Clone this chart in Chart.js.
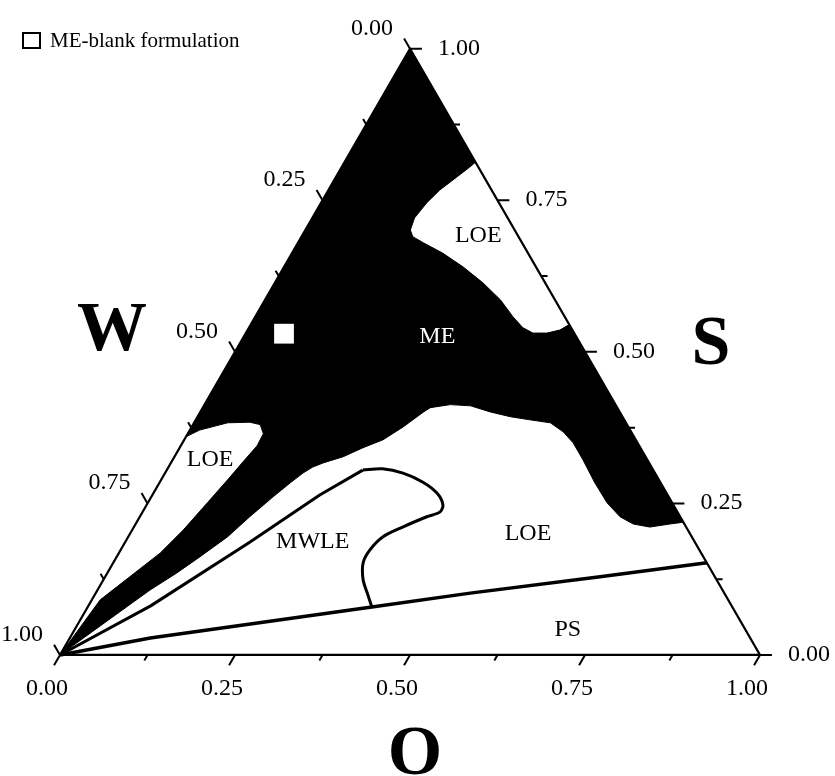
<!DOCTYPE html>
<html>
<head>
<meta charset="utf-8">
<title>ME phase diagram</title>
<script src="https://cdn.jsdelivr.net/npm/chart.js@4.4.1/dist/chart.umd.min.js"></script>
<style>
  html, body { margin: 0; padding: 0; background: #fff; }
  #wrap { position: relative; width: 835px; height: 776px; }
</style>
</head>
<body>
<div id="wrap"><canvas id="phase-chart"></canvas></div>
<script>
// compositions are [O, S] fractions, W = 1 - O - S
const tickValues = [0, 0.125, 0.25, 0.375, 0.5, 0.625, 0.75, 0.875, 1];
const labelValues = [0, 0.25, 0.5, 0.75, 1];
const tickLabels = ['0.00', '0.25', '0.50', '0.75', '1.00'];

// black ME area (with the two LOE pockets cut out)
const meRegion = [
  [0, 1], [0.187, 0.813],
  [0.183, 0.805], [0.173, 0.789], [0.159, 0.767], [0.151, 0.746], [0.146, 0.721],
  [0.150, 0.701], [0.159, 0.690], [0.179, 0.680], [0.215, 0.663], [0.256, 0.640],
  [0.297, 0.614], [0.336, 0.586], [0.368, 0.558], [0.391, 0.540], [0.410, 0.531],
  [0.430, 0.531], [0.446, 0.536], [0.455, 0.545],
  [0.781, 0.219],
  [0.763, 0.216], [0.737, 0.211], [0.711, 0.216], [0.686, 0.228], [0.656, 0.251],
  [0.622, 0.284], [0.586, 0.322], [0.558, 0.350], [0.535, 0.368], [0.509, 0.383],
  [0.477, 0.388], [0.447, 0.393], [0.414, 0.401], [0.381, 0.411], [0.351, 0.413],
  [0.325, 0.408], [0.319, 0.401], [0.302, 0.376], [0.284, 0.355], [0.262, 0.342],
  [0.241, 0.327], [0.218, 0.317], [0.206, 0.310], [0.197, 0.300], [0.187, 0.284],
  [0.174, 0.261], [0.157, 0.228], [0.142, 0.195], [0.119, 0.162], [0.099, 0.135],
  [0.075, 0.107], [0, 0],
  [0.012, 0.091], [0.059, 0.168], [0.073, 0.206], [0.085, 0.251], [0.095, 0.289],
  [0.102, 0.318], [0.109, 0.345], [0.108, 0.365], [0.096, 0.380], [0.079, 0.384],
  [0.048, 0.383], [0.014, 0.371], [0, 0.360],
  [0, 1]
];

const mwleLine = [[0, 0], [0.089, 0.081], [0.178, 0.186], [0.239, 0.264], [0.280, 0.305]];
const mwleCurve = [
  [0.280, 0.305], [0.307, 0.307], [0.340, 0.300], [0.376, 0.285], [0.405, 0.267],
  [0.423, 0.248], [0.425, 0.236], [0.410, 0.228], [0.384, 0.211], [0.364, 0.195],
  [0.356, 0.173], [0.357, 0.152], [0.371, 0.124], [0.388, 0.102], [0.406, 0.079]
];
const psLine = [[0, 0], [0.115, 0.028], [0.406, 0.079], [0.535, 0.102], [0.707, 0.129], [0.848, 0.152]];

const blankFormulation = [[0.055, 0.530]];

const regionNames = ['LOE', 'ME', 'LOE', 'MWLE', 'LOE', 'PS'];
const regionNameAt = [[0.250, 0.695], [0.275, 0.528], [0.052, 0.325], [0.266, 0.190], [0.567, 0.203], [0.703, 0.045]];

const H = Math.sqrt(3) / 2;
function tern(p) {
  return { x: p[0] + p[1] / 2, y: p[1] * H };
}

// tick marks, each one a short segment pointing out of the triangle
const tickSegs = [];
tickValues.forEach(function (v, i) {
  const len = i % 2 === 0 ? 0.017 : 0.009;
  const o = tern([v, 0]);
  const s = tern([1 - v, v]);
  const w = tern([0, 1 - v]);
  tickSegs.push(o, { x: o.x - 0.5 * len, y: o.y - H * len }, { x: null, y: null });
  tickSegs.push(s, { x: s.x + len, y: s.y }, { x: null, y: null });
  tickSegs.push(w, { x: w.x - 0.5 * len, y: w.y + H * len }, { x: null, y: null });
});

const serif = "'Liberation Serif', 'Times New Roman', serif";

const textPlugin = {
  id: 'ternaryText',
  afterDraw(chart) {
    const ctx = chart.ctx;
    const xs = chart.scales.x, ys = chart.scales.y;
    const px = function (p) {
      const c = tern(p);
      return [xs.getPixelForValue(c.x), ys.getPixelForValue(c.y)];
    };
    ctx.save();
    ctx.fillStyle = '#000';
    ctx.textBaseline = 'alphabetic';
    ctx.font = '24px ' + serif;

    labelValues.forEach(function (v, i) {
      let b = px([v, 0]);
      ctx.textAlign = 'center';
      ctx.fillText(tickLabels[i], b[0] - 13, b[1] + 40);
      b = px([1 - v, v]);
      ctx.textAlign = 'left';
      ctx.fillText(tickLabels[i], b[0] + 28, b[1] + 6);
      b = px([0, 1 - v]);
      ctx.textAlign = 'center';
      ctx.fillText(tickLabels[i], b[0] - 38, b[1] - 14);
    });

    regionNames.forEach(function (name, i) {
      const b = px(regionNameAt[i]);
      ctx.fillStyle = name === 'ME' ? '#fff' : '#000';
      ctx.textAlign = 'center';
      ctx.fillText(name, b[0], b[1] + 8);
    });

    // axis names
    ctx.fillStyle = '#000';
    ctx.font = 'bold 70px ' + serif;
    ctx.textAlign = 'center';
    let m = px([0, 0.5]);
    ctx.fillText('W', m[0] - 123, m[1] - 2);
    m = px([0.5, 0.5]);
    ctx.fillText('S', m[0] + 126, m[1] + 12);
    m = px([0.5, 0]);
    ctx.fillText('O', m[0] + 5, m[1] + 119);

    // legend
    ctx.lineWidth = 2;
    ctx.strokeStyle = '#000';
    ctx.strokeRect(23, 33, 17, 15);
    ctx.font = '21px ' + serif;
    ctx.textAlign = 'left';
    ctx.fillText('ME-blank formulation', 50, 47);
    ctx.restore();
  }
};

// the marker's radius (14) becomes chart padding, so the ranges allow for it
const chartCtx = document.getElementById('phase-chart').getContext('2d');
new Chart(chartCtx, {
  type: 'line',
  data: {
    datasets: [
      {
        label: 'ME-blank formulation',
        data: blankFormulation.map(tern),
        showLine: false,
        pointStyle: 'rect',
        pointRadius: 14,
        pointBackgroundColor: '#fff',
        pointBorderWidth: 0,
        order: 0
      },
      {
        label: 'triangle',
        data: [[0, 0], [1, 0], [0, 1], [0, 0]].map(tern),
        borderColor: '#000',
        borderWidth: 2.3,
        pointRadius: 0,
        order: 1
      },
      {
        label: 'ticks',
        data: tickSegs,
        borderColor: '#000',
        borderWidth: 2,
        pointRadius: 0,
        spanGaps: false,
        order: 1
      },
      {
        label: 'PS',
        data: psLine.map(tern),
        borderColor: '#000',
        borderWidth: 3.5,
        pointRadius: 0,
        order: 2
      },
      {
        label: 'MWLE line',
        data: mwleLine.map(tern),
        borderColor: '#000',
        borderWidth: 3,
        pointRadius: 0,
        order: 2
      },
      {
        label: 'MWLE',
        data: mwleCurve.map(tern),
        borderColor: '#000',
        borderWidth: 3,
        pointRadius: 0,
        tension: 0.3,
        order: 2
      },
      {
        label: 'ME',
        data: meRegion.map(tern),
        borderColor: '#000',
        backgroundColor: '#000',
        borderWidth: 1,
        pointRadius: 0,
        fill: 'shape',
        order: 10
      }
    ]
  },
  options: {
    responsive: true,
    maintainAspectRatio: false,
    animation: false,
    devicePixelRatio: 1,
    elements: { line: { borderJoinStyle: 'round' } },
    scales: {
      x: { type: 'linear', min: -0.0657, max: 1.0871, display: false },
      y: { type: 'linear', min: -0.1529, max: 0.9157, display: false }
    },
    plugins: {
      legend: { display: false },
      tooltip: { enabled: false }
    }
  },
  plugins: [textPlugin]
});
</script>
</body>
</html>
